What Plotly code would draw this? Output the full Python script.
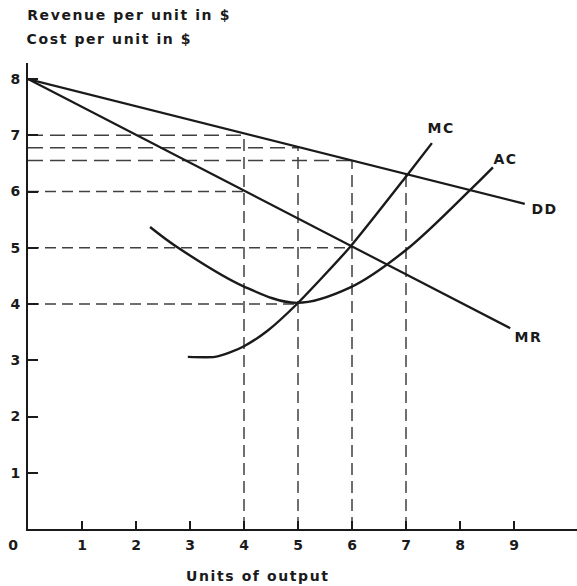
import plotly.graph_objects as go

# ---- data ----
dd_x = [0, 9.2]
dd_y = [8, 5.78]
mr_x = [0, 8.93]
mr_y = [8, 3.57]
mc_x = [2.96, 3.46, 3.74, 4.0, 4.43, 4.98, 5.96, 7.02, 7.48]
mc_y = [3.06, 3.06, 3.14, 3.25, 3.52, 4.0, 5.01, 6.29, 6.86]
ac_x = [2.26, 2.78, 4.0, 4.98, 5.96, 7.0, 8.19, 8.61]
ac_y = [5.37, 5.0, 4.31, 4.02, 4.29, 4.96, 6.03, 6.43]

# horizontal guide lines: level and the output where they stop
h_levels = [7.0, 6.78, 6.55, 6.0, 5.0, 4.0]
h_ends = [4, 5, 6, 4, 6, 5]
# vertical guide lines: output and the height where they stop
v_pos = [4, 5, 6, 7]
v_tops = [7.0, 6.78, 6.55, 6.3]

x_ticks = [1, 2, 3, 4, 5, 6, 7, 8, 9]
y_ticks = [1, 2, 3, 4, 5, 6, 7, 8]

curve_labels = ["MC", "AC", "DD", "MR"]
label_x = [7.65, 8.85, 9.57, 9.26]
label_y = [7.13, 6.58, 5.69, 3.41]

title_lines = ["Revenue per unit in $", "Cost per unit in $"]
x_title = "Units of output"

INK = "#1a1a1a"
DASH = "#404040"
FONT = "DejaVu Sans"
SPACING = 1.6

fig = go.Figure()

# guide lines
for lvl, end in zip(h_levels, h_ends):
    dash = "15px,7px" if lvl > 6.2 else "11px,6px"
    fig.add_trace(go.Scatter(x=[0, end], y=[lvl, lvl], mode="lines",
                             line=dict(color=DASH, width=1.5, dash=dash),
                             hoverinfo="skip", showlegend=False))
for xp, top in zip(v_pos, v_tops):
    fig.add_trace(go.Scatter(x=[xp, xp], y=[0, top], mode="lines",
                             line=dict(color=DASH, width=1.5, dash="12px,6px"),
                             hoverinfo="skip", showlegend=False))

# curves
fig.add_trace(go.Scatter(x=dd_x, y=dd_y, mode="lines", name="DD",
                         line=dict(color=INK, width=2.2), showlegend=False))
fig.add_trace(go.Scatter(x=mr_x, y=mr_y, mode="lines", name="MR",
                         line=dict(color=INK, width=2.2), showlegend=False))
fig.add_trace(go.Scatter(x=mc_x, y=mc_y, mode="lines", name="MC",
                         line=dict(color=INK, width=2.4, shape="spline", smoothing=0.6),
                         showlegend=False))
fig.add_trace(go.Scatter(x=ac_x, y=ac_y, mode="lines", name="AC",
                         line=dict(color=INK, width=2.4, shape="spline", smoothing=1.0),
                         showlegend=False))

W, H = 577, 586
L, R, T, B = 28, 0, 63, 57
pw, ph = W - L - R, H - T - B

annotations = []
for t, x, y in zip(curve_labels, label_x, label_y):
    annotations.append(dict(x=x, y=y, xref="x", yref="y", text=t, showarrow=False,
                            font=dict(family=FONT, size=14, color=INK, weight="bold"),
                            xanchor="center", yanchor="middle"))
# title lines at top left (xshift compensates for letter spacing around centre)
for t, py in zip(title_lines, [15, 39]):
    annotations.append(dict(x=-3 / pw, y=1 + (T - py) / ph, xref="paper", yref="paper",
                            text=t, showarrow=False, xanchor="left", yanchor="middle",
                            xshift=SPACING * len(t) / 2,
                            font=dict(family=FONT, size=14, color=INK, weight="bold")))
# x axis title
annotations.append(dict(x=(258 - L) / pw, y=-(576 - (H - B)) / ph, xref="paper", yref="paper",
                        text=x_title, showarrow=False, xanchor="center", yanchor="middle",
                        font=dict(family=FONT, size=14, color=INK, weight="bold")))
# origin label
annotations.append(dict(x=-14 / pw, y=-16 / ph, xref="paper", yref="paper",
                        text="0", showarrow=False, xanchor="center", yanchor="middle",
                        font=dict(family=FONT, size=14, color=INK, weight="bold")))

fig.update_layout(
    width=W, height=H,
    margin=dict(l=L, r=R, t=T, b=B, autoexpand=False),
    paper_bgcolor="white", plot_bgcolor="white",
    annotations=annotations,
    showlegend=False,
)
fig.update_xaxes(range=[0, pw / 54.0], showline=True, linecolor=INK, linewidth=2,
                 ticks="inside", ticklen=8, tickwidth=2, tickcolor=INK,
                 tickvals=x_ticks, ticktext=[str(v) for v in x_ticks],
                 showgrid=False, zeroline=False, ticklabelstandoff=2, automargin=False,
                 tickfont=dict(family=FONT, size=14, color=INK, weight="bold"))
fig.update_yaxes(range=[0, ph / 56.25], showline=True, linecolor=INK, linewidth=2,
                 ticks="inside", ticklen=10, tickwidth=2, tickcolor=INK,
                 tickvals=y_ticks, ticktext=[str(v) for v in y_ticks],
                 showgrid=False, zeroline=False, ticklabelstandoff=3, automargin=False,
                 tickfont=dict(family=FONT, size=14, color=INK, weight="bold"))

post = ("document.body.style.margin='0';document.body.style.overflow='hidden';"
        "document.querySelectorAll('.annotation-text').forEach(function(t){"
        "t.style.letterSpacing='" + str(SPACING) + "px';});")
fig.write_html("out.html", post_script=post, config={"displayModeBar": False})
